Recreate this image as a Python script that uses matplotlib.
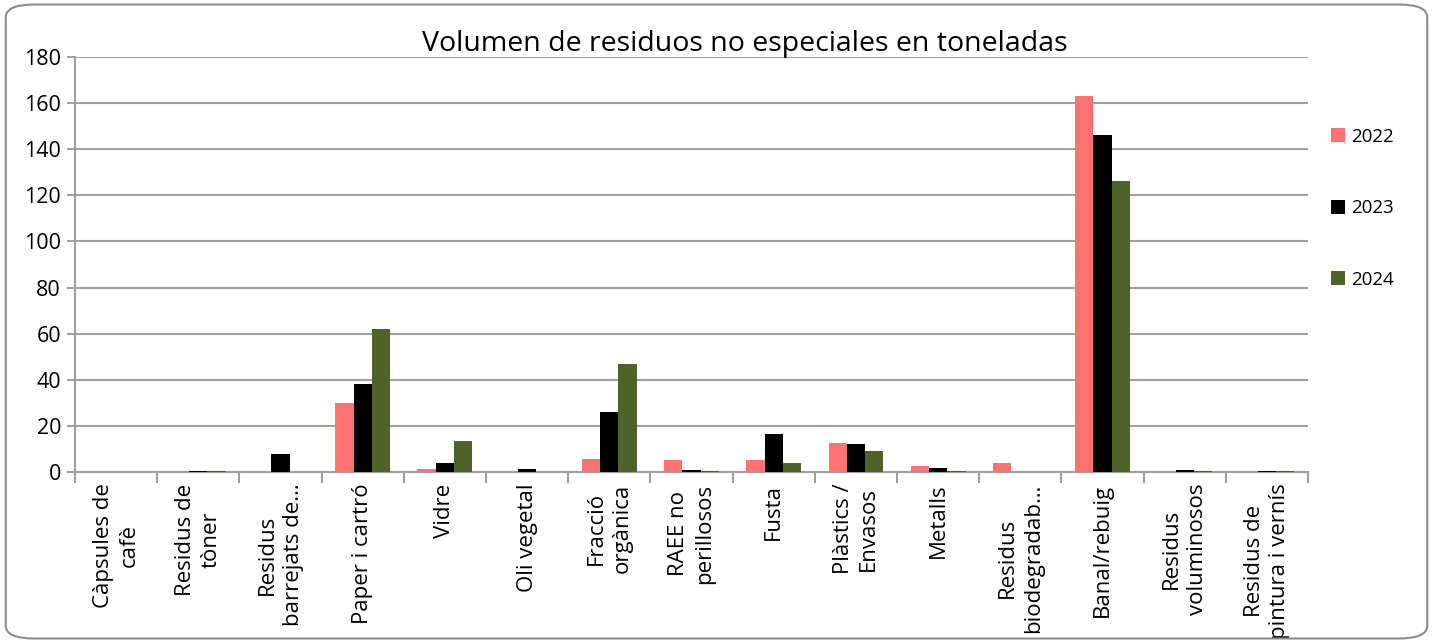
import matplotlib
matplotlib.use("Agg")
import matplotlib.pyplot as plt
import numpy as np
from matplotlib.patches import FancyBboxPatch

categories = ["Càpsules de\ncafè", "Residus de\ntòner", "Residus\nbarrejats de…", "Paper i cartró",
              "Vidre", "Oli vegetal", "Fracció\norgànica", "RAEE no\nperillosos", "Fusta",
              "Plàstics /\nEnvasos", "Metalls", "Residus\nbiodegradab…", "Banal/rebuig",
              "Residus\nvoluminosos", "Residus de\npintura i vernís"]
years = ["2022", "2023", "2024"]
v2022 = [0, 0, 0, 30, 1.3, 0, 5.5, 5, 5.3, 12.5, 2.4, 3.9, 163, 0, 0]
v2023 = [0, 0.3, 8, 38, 4, 1.3, 26, 1, 16.5, 12, 1.8, 0, 146, 0.7, 0.3]
v2024 = [0, 0.3, 0, 62, 13.5, 0, 47, 0.5, 4, 9, 0.4, 0, 126, 0.3, 0.3]
colors = ["#FF7373", "#000000", "#4F6228"]

plt.rcParams['font.family'] = ['Open Sans', 'DejaVu Sans']

fig = plt.figure(figsize=(14.33, 6.43), dpi=100)
ax = fig.add_axes([0.0523, 0.2659, 0.8605, 0.6455])

x = np.arange(len(categories))
w = 1 / 4.5
for i, (vals, c, yr) in enumerate(zip([v2022, v2023, v2024], colors, years)):
    ax.bar(x + (i - 1) * w, vals, width=w, color=c, label=yr, zorder=3)

ax.set_xlim(-0.5, len(categories) - 0.5)
ax.set_ylim(0, 180)
ax.set_yticks(np.arange(0, 181, 20))
ax.yaxis.grid(True, color="#A0A0A0", linewidth=1.5, zorder=0)
ax.set_axisbelow(True)
for s in ["top", "right"]:
    ax.spines[s].set_visible(False)
for s in ["left", "bottom"]:
    ax.spines[s].set_color("#A0A0A0")
    ax.spines[s].set_linewidth(1.5)
ax.tick_params(axis="y", length=6, width=1.5, color="#A0A0A0", labelsize=15.5, pad=4)
ax.set_xticks(np.arange(-0.5, len(categories), 1))
ax.set_xticklabels([])
ax.tick_params(axis="x", length=8, width=1.5, color="#A0A0A0")
for xi, lab in zip(x, categories):
    ax.text(xi, -5, lab, rotation=90, ha="center", va="top", multialignment="center",
            fontsize=16, linespacing=1.3, transform=ax.transData, clip_on=False)

fig.text(0.52, 0.932, "Volumen de residuos no especiales en toneladas", ha="center", va="center",
         fontsize=20.5)

leg = ax.legend(loc="upper left", bbox_to_anchor=(1.005, 0.87), frameon=False, fontsize=13.5,
                handlelength=0.75, handleheight=0.75, handletextpad=0.3, labelspacing=2.85)

border = FancyBboxPatch((0.004, 0.007), 0.992, 0.986, boxstyle="round,pad=0,rounding_size=0.02",
                        transform=fig.transFigure, fill=False, edgecolor="#8C8C8C", linewidth=1.5)
fig.patches.append(border)

fig.savefig("out.png", dpi=100)
